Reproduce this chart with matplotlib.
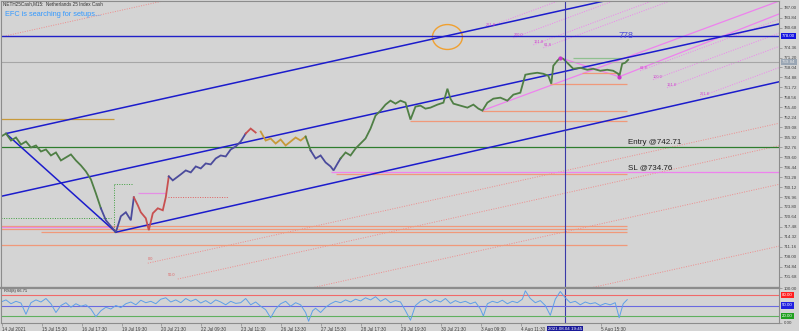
import matplotlib.pyplot as plt
from matplotlib.patches import Ellipse
from matplotlib.transforms import blended_transform_factory

plt.rcParams['font.family'] = ['Liberation Sans', 'DejaVu Sans']

# price path (x = position on the time axis)
bar_x = [0, 5, 10, 15, 20, 25, 30, 35, 40, 45, 50, 55, 60, 65, 70, 75, 80, 85, 90, 95,
         100, 105, 110, 115, 120, 125, 130, 133, 137, 140, 145, 148, 152, 157, 162, 165,
         168, 172, 176, 180, 185, 190, 195, 200, 205, 210, 215, 220, 225, 230, 235, 240,
         245, 250, 255, 260, 265, 270, 275, 280, 285, 290, 295, 300, 305, 310, 315, 320,
         325, 330, 333, 337, 340, 345, 350, 355, 360, 365, 370, 375, 380, 385, 390, 395,
         400, 405, 410, 415, 420, 425, 430, 437, 443, 447, 450, 453, 460, 467, 473, 478,
         482, 487, 493, 500, 507, 513, 520, 525, 530, 537, 543, 548, 551, 553, 557, 560,
         563, 567, 570, 573, 580, 587, 593, 600, 607, 613, 618, 619, 622, 625, 628]
close = [746.14, 747.09, 744.88, 745.83, 743.62, 744.56, 742.67, 743.30, 741.40, 742.04,
         740.14, 741.09, 738.56, 739.51, 740.46, 738.56, 736.98, 735.08, 732.56, 728.13,
         723.39, 719.60, 717.70, 715.81, 720.86, 722.13, 719.60, 726.87, 724.34, 722.13,
         720.23, 716.44, 721.81, 723.39, 722.76, 726.87, 733.50, 732.24, 733.19, 734.14,
         735.40, 734.77, 736.66, 736.03, 737.61, 737.30, 739.19, 740.14, 739.82, 742.04,
         742.98, 744.56, 747.09, 748.67, 747.41, 747.72, 744.88, 745.51, 743.93, 745.20,
         743.30, 744.56, 745.83, 744.88, 746.14, 741.72, 739.19, 740.14, 737.93, 736.66,
         735.40, 737.61, 739.19, 741.09, 740.14, 742.35, 743.93, 745.51, 748.67, 752.78,
         754.36, 756.26, 757.52, 756.57, 757.52, 756.89, 751.52, 755.62, 755.94, 754.99,
         755.31, 756.26, 756.89, 761.31, 758.15, 756.57, 755.94, 755.31, 756.26, 754.99,
         754.36, 756.89, 758.15, 758.47, 757.52, 759.42, 760.05, 765.74, 766.05, 766.37,
         766.05, 765.42, 762.89, 768.58, 770.16, 771.11, 770.79, 769.53, 768.58, 767.63,
         767.95, 767.32, 767.63, 767.00, 767.32, 767.00, 766.05, 765.10, 769.21, 769.53,
         770.48]

# colour changes of the bars along the time axis
seg_edges = [0, 100, 133, 168, 245, 258, 305, 310, 340, 629]
seg_kind = ['g', 'b', 'r', 'b', 'r', 'o', 'g', 'b', 'g']

rsi_x = [0, 5, 10, 15, 20, 25, 30, 35, 40, 45, 50, 55, 60, 65, 70, 75, 80, 85, 90, 95,
         100, 105, 110, 115, 120, 125, 130, 135, 140, 145, 150, 155, 160, 165, 170, 175,
         180, 185, 190, 195, 200, 205, 210, 215, 220, 225, 230, 235, 240, 245, 250, 255,
         260, 265, 270, 275, 280, 285, 290, 295, 300, 305, 308, 312, 315, 320, 325, 330,
         335, 340, 345, 350, 355, 360, 365, 370, 375, 380, 385, 390, 395, 400, 405, 410,
         415, 420, 425, 430, 435, 440, 445, 450, 455, 460, 465, 470, 475, 480, 483, 487,
         492, 497, 502, 507, 512, 517, 522, 525, 530, 535, 540, 545, 550, 555, 560, 565,
         570, 575, 580, 585, 590, 595, 600, 605, 610, 615, 619, 623, 627]
rsi_val = [60, 66, 55, 62, 57, 25, 58, 66, 60, 70, 55, 30, 50, 58, 45, 55, 48, 52, 40, 18,
           35, 45, 40, 50, 44, 55, 60, 52, 65, 58, 62, 55, 68, 72, 60, 66, 58, 70, 62, 68,
           57, 64, 55, 66, 60, 52, 62, 56, 58, 70, 52, 60, 48, 38, 15, 40, 55, 62, 48, 58,
           52, 30, 5, 35, 42, 30, 45, 55, 62, 58, 66, 60, 68, 63, 72, 66, 75, 62, 70, 58,
           64, 60, 35, 8, 50, 62, 68, 58, 66, 60, 70, 56, 64, 58, 62, 55, 60, 40, 20, 55,
           62, 58, 65, 55, 62, 58, 68, 92, 70, 58, 64, 50, 22, 68, 90, 72, 58, 62, 52, 60,
           55, 58, 50, 56, 52, 58, 15, 55, 66.71]

# 777.52 sits under the 778.00 marker box, so it is not listed
price_ticks = [787.00, 783.84, 780.68, 774.36, 771.20, 768.04, 764.88, 761.72,
               758.56, 755.40, 752.24, 749.08, 745.92, 742.76, 739.60, 736.44, 733.28,
               730.12, 726.96, 723.80, 720.64, 717.48, 714.32, 711.16, 708.00, 704.84, 701.68]
time_pos = [0.7, 40.7, 80.7, 120.7, 160.7, 200.7, 240.7, 280.7, 320.7, 360.7, 400.7,
            440.7, 480.7, 520.7, 600.7]
time_labels = ['14 Jul 2021', '15 Jul 15:30', '16 Jul 17:30', '19 Jul 19:30', '20 Jul 21:30',
               '22 Jul 09:30', '23 Jul 11:30', '26 Jul 13:30', '27 Jul 15:30', '28 Jul 17:30',
               '29 Jul 19:30', '30 Jul 21:30', '3 Aug 09:30', '4 Aug 11:30', '5 Aug 15:30']
cursor_x = 565
cursor_label = '2021.08.04 19:45'

level_778 = 778.00
last_price = 769.84
entry = 742.71
stop = 734.76

# solid horizontal levels: price, start, end
lvl_price = [751.83, 734.30, 717.70, 716.76, 715.81, 717.39, 711.70, 762.89, 754.36,
             751.20, 771.11, 766.37, 728.13]
lvl_start = [0, 335, 0, 0, 40, 0, 0, 550, 482, 410, 573, 582, 137]
lvl_end = [113, 627, 627, 627, 627, 113, 627, 627, 627, 627, 622, 620, 165]
lvl_kind = ['o', 's', 's', 's', 's', 'p', 's', 's', 's', 's', 'lg', 's', 'p']

# channel (two anchor points each)
chan_x = [[5, 779], [0, 779], [115, 779], [5, 115]]
chan_y = [[747.09, 801.40], [727.18, 781.85], [715.81, 763.50], [747.09, 715.81]]

# red dotted expansion lines
fib_x = [[0, 779], [147, 779], [177, 779], [0, 779], [0, 779]]
fib_y = [[777.74, 832.40], [705.98, 750.35], [700.96, 743.22], [676.30, 730.98], [656.70, 711.38]]
fib_txt = ['0.0', '50.0']

# magenta pitchfork legs and dotted levels
mag_x = [[482, 779], [560, 619], [619, 779]]
mag_y = [[754.36, 789.10], [771.11, 765.10], [765.10, 785.00]]
magd_x = [[485, 779], [513, 779], [533, 779], [543, 779], [640, 779], [653, 779], [667, 779], [700, 779]]
magd_y = [[780.59, 815.0], [777.43, 808.5], [775.22, 804.0], [774.27, 801.9],
          [767.00, 783.3], [764.16, 778.9], [761.63, 774.7], [758.78, 768.0]]
magd_txt = ['261.8', '200.0', '161.8', '61.8', '61.8', '100.0', '161.8', '261.8']

bg = '#d4d4d4'
col = {'g': '#4f7f45', 'b': '#4b4b9c', 'r': '#c85050', 'o': '#c89a3a',
       's': '#f0997a', 'p': '#e58ee5', 'lg': '#8fc08f'}

fig = plt.figure(figsize=(7.99, 3.31), dpi=100, facecolor=bg)
W, H = 799.0, 331.0
ax = fig.add_axes([1 / W, 1 - 287 / H, 778 / W, 286 / H], facecolor=bg)
ar = fig.add_axes([1 / W, 1 - 323 / H, 778 / W, 35 / H], facecolor=bg)

ax.set_xlim(0, 779)
ax.set_ylim(698.43, 789.12)

# dotted fib lines
for xs, ys in zip(fib_x, fib_y):
    ax.plot(xs, ys, color='#ee8c8c', lw=0.7, ls=(0, (1, 1.5)))
ax.text(147, 706.6, fib_txt[0], color='#e06060', fontsize=2.8, ha='left', va='bottom')
ax.text(167, 701.5, fib_txt[1], color='#e06060', fontsize=2.8, ha='left', va='bottom')

for xs, ys in zip(magd_x, magd_y):
    ax.plot(xs, ys, color='#ee82ee', lw=0.7, ls=(0, (1, 1.5)))
for xs, ys, t in zip(magd_x, magd_y, magd_txt):
    ax.text(xs[0], ys[0] + 0.3, t, color='#d040d0', fontsize=2.8, ha='left', va='bottom')
for xs, ys in zip(mag_x, mag_y):
    ax.plot(xs, ys, color='#ee82ee', lw=0.9)

# horizontal levels
ax.axhline(level_778, color='#2020c8', lw=1.0)
ax.axhline(last_price, color='#a6a6a6', lw=0.8)
ax.axhline(entry, color='#2e7d2e', lw=0.9)
ax.hlines(stop, 330, 779, color='#ee82ee', lw=0.9)
for p, a, b, k in zip(lvl_price, lvl_start, lvl_end, lvl_kind):
    ax.hlines(p, a, b, color=col[k], lw=0.9)
ax.hlines(726.87, 167, 227, color='#e06060', lw=0.7, ls=(0, (1, 1.5)))
ax.hlines(730.98, 113, 132, color='#3f9f3f', lw=0.7, ls=(0, (1, 1.5)))
ax.hlines(720.45, 0, 110, color='#3f9f3f', lw=0.7, ls=(0, (1, 1.5)))
ax.vlines(113, 715.81, 730.98, color='#3f9f3f', lw=0.7, ls=(0, (1, 1.5)))

# channel
for xs, ys in zip(chan_x, chan_y):
    ax.plot(xs, ys, color='#1c1ccc', lw=1.1)

# price
for i, k in enumerate(seg_kind):
    a, b = seg_edges[i], seg_edges[i + 1]
    xs = [x for x in bar_x if a <= x <= b]
    ys = [c for x, c in zip(bar_x, close) if a <= x <= b]
    ax.plot(xs, ys, color=col[k], lw=1.3, solid_joinstyle='miter')
ax.plot([560, 619], [771.11, 765.10], 'o', color='#cc33cc', ms=2)

ax.add_patch(Ellipse((447, 777.7), 30, 7.9, fill=False, ec='#f0a030', lw=1.0))

ax.axvline(cursor_x, color='#3a3aa8', lw=0.8)
ar.axvline(cursor_x, color='#3a3aa8', lw=0.8)

ax.text(618, 777.4, '778', color='#5050d8', fontsize=6.5, va='baseline')
ax.text(627.5, entry + 0.35, 'Entry @742.71', color='#202020', fontsize=5.8, va='bottom')
ax.text(627.5, stop + 0.35, 'SL @734.76', color='#202020', fontsize=5.8, va='bottom')

fig.text(3 / W, 1 - 4 / H, 'NETH25Cash,M15:  Netherlands 25 Index Cash', fontsize=3.3,
         color='#303030', va='center')
fig.text(5 / W, 1 - 14 / H, 'EFC is searching for setups...', fontsize=5.3,
         color='#3399ff', va='center')

# price axis
ax.yaxis.tick_right()
ax.set_yticks(price_ticks)
ax.set_yticklabels(['%.2f' % t for t in price_ticks])
ax.tick_params(axis='y', labelsize=3.2, length=2, width=0.5, pad=1.5,
               colors='#8c8c8c', labelcolor='#404040')
ax.set_xticks([])
for s in ax.spines.values():
    s.set_color('#8c8c8c')
    s.set_linewidth(0.8)

tr = blended_transform_factory(ax.transAxes, ax.transData)
ax.text(1.004, level_778, '%.2f' % level_778, transform=tr, fontsize=3.2, color='white',
        va='center', ha='left', bbox=dict(boxstyle='square,pad=0.25', fc='#1515e0', ec='none'))
ax.text(1.004, last_price, '%.2f' % last_price, transform=tr, fontsize=3.2, color='#e8e8e8',
        va='center', ha='left', bbox=dict(boxstyle='square,pad=0.25', fc='#9aa6b4', ec='none'))

# RSI
ar.set_xlim(0, 779)
ar.set_ylim(0, 100)
ar.axhline(80, color='#f06a6a', lw=0.8)
ar.axhline(50, color='#6a6ae0', lw=0.8)
ar.axhline(20, color='#60b060', lw=0.8)
ar.plot(rsi_x, rsi_val, color='#5fa0e8', lw=0.7)
ar.text(3, 96, 'RSI(8) 66.71', fontsize=3.0, color='#303030', va='top')
ar.yaxis.tick_right()
ar.set_yticks([0, 100])
ar.set_yticklabels(['0.00', '100.00'])
ar.tick_params(axis='y', labelsize=3.2, length=2, width=0.5, pad=1.5,
               colors='#8c8c8c', labelcolor='#404040')
trr = blended_transform_factory(ar.transAxes, ar.transData)
for v, c in zip([80, 50, 20], ['#ff2020', '#2020e0', '#20a020']):
    ar.text(1.004, v, '%.2f' % v, transform=trr, fontsize=3.2, color='white', va='center',
            ha='left', bbox=dict(boxstyle='square,pad=0.25', fc=c, ec='none'))
ar.set_xticks(time_pos)
ar.set_xticklabels(time_labels, ha='left')
ar.tick_params(axis='x', labelsize=3.3, length=2, width=0.5, pad=1.2,
               colors='#8c8c8c', labelcolor='#404040')
trx = blended_transform_factory(ar.transData, ar.transAxes)
ar.text(cursor_x, -0.12, cursor_label, transform=trx, fontsize=3.2, color='white',
        ha='center', va='top', bbox=dict(boxstyle='square,pad=0.25', fc='#1a1a9a', ec='none'))
for s in ar.spines.values():
    s.set_color('#8c8c8c')
    s.set_linewidth(0.8)
ar.spines['top'].set_linewidth(1.6)

fig.savefig('out.png', dpi=100, facecolor=bg)
